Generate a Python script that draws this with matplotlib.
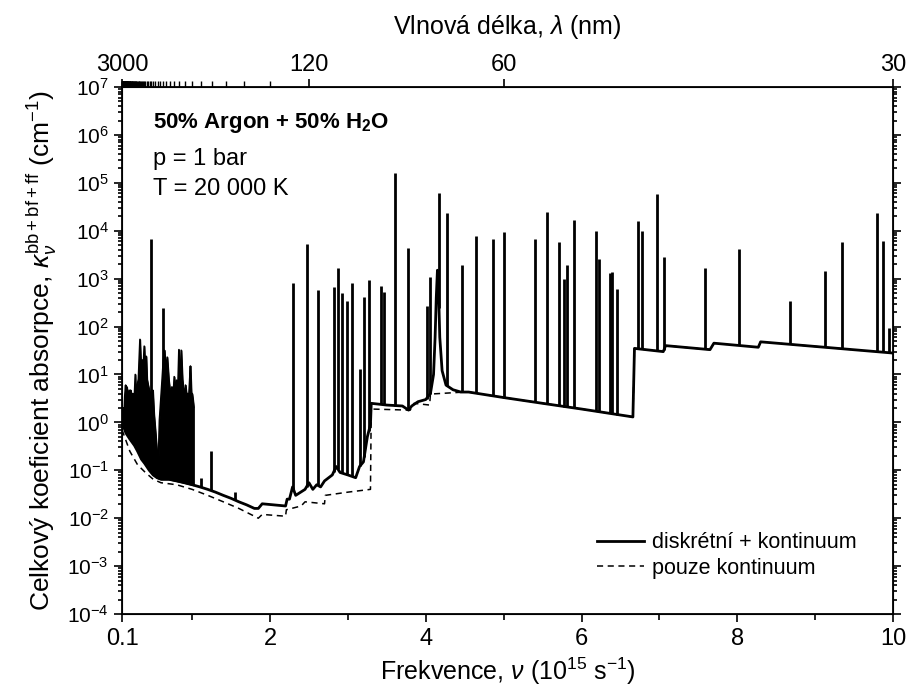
import numpy as np
import matplotlib.pyplot as plt
from matplotlib.ticker import FixedLocator, LogLocator, NullFormatter

plt.rcParams['font.family'] = ['Liberation Sans', 'DejaVu Sans']
plt.rcParams['mathtext.fontset'] = 'custom'
plt.rcParams['mathtext.rm'] = 'Liberation Sans'
plt.rcParams['mathtext.it'] = 'Liberation Sans:italic'
plt.rcParams['mathtext.bf'] = 'Liberation Sans:bold'

# solid curve (discrete + continuum) without the narrow line peaks
cont_nu = [0.10, 0.15, 0.20, 0.26, 0.30, 0.35, 0.39, 0.45, 0.50, 0.55, 0.60, 0.70, 0.80,
           0.90, 1.00, 1.10, 1.20, 1.30, 1.40, 1.50, 1.60, 1.70, 1.80, 1.85, 1.90, 2.20,
           2.22, 2.25, 2.29, 2.33, 2.45, 2.50, 2.55, 2.60, 2.65, 2.70, 2.80, 2.85, 2.90,
           3.00, 3.10, 3.15, 3.20, 3.25, 3.29, 3.30, 3.50, 3.70, 3.78, 3.82, 3.90, 4.00,
           4.06, 4.10, 4.12, 4.135, 4.15, 4.165, 4.18, 4.21, 4.26, 4.35, 4.45, 4.55, 5.00,
           5.50, 6.00, 6.66, 6.68, 7.05, 7.08, 7.65, 7.70, 8.27, 8.30, 10.0]
cont_k = [1.0, 0.6, 0.45, 0.33, 0.25, 0.17, 0.14, 0.10, 0.08, 0.07, 0.065, 0.065, 0.06,
          0.055, 0.05, 0.045, 0.04, 0.035, 0.03, 0.026, 0.022, 0.019, 0.016, 0.016, 0.02,
          0.018, 0.025, 0.025, 0.045, 0.03, 0.04, 0.055, 0.04, 0.05, 0.045, 0.06, 0.08,
          0.12, 0.09, 0.08, 0.07, 0.12, 0.15, 0.5, 0.9, 2.5, 2.3, 2.2, 1.8, 2.2, 2.7, 3.0,
          4.0, 10, 60, 400, 1500, 500, 60, 12, 6, 4.8, 4.3, 4.3, 3.3,
          2.5, 1.9, 1.3, 35, 30, 40, 33, 45, 37, 48, 28]

# dashed curve: continuum only
dash_nu = [0.10, 0.20, 0.30, 0.40, 0.50, 0.60, 0.80, 1.00, 1.20, 1.40, 1.60, 1.80, 1.85,
           1.90, 2.20, 2.21, 2.40, 2.45, 2.70, 2.71, 3.00, 3.29, 3.30, 3.80, 3.85, 4.05,
           4.06, 4.50, 4.55, 5.00, 5.50, 6.00, 6.66, 6.68, 7.05, 7.08, 7.65, 7.70, 8.27,
           8.30, 10.0]
dash_k = [0.7, 0.25, 0.13, 0.09, 0.065, 0.055, 0.05, 0.04, 0.03, 0.022, 0.016, 0.011, 0.010,
          0.012, 0.011, 0.015, 0.018, 0.022, 0.02, 0.03, 0.035, 0.04, 1.9, 1.8, 2.5, 2.3,
          3.9, 4.3, 4.3, 3.3, 2.5, 1.9, 1.3, 35, 30, 40, 33, 45, 37, 48, 28]

# dense group of lines at low frequency: upper envelope
band_nu = [0.100, 0.115, 0.125, 0.135, 0.146, 0.155, 0.162, 0.175, 0.19, 0.20, 0.21, 0.225,
           0.24, 0.255, 0.27, 0.28, 0.295, 0.31, 0.33, 0.345, 0.36, 0.37, 0.385, 0.395, 0.41,
           0.42, 0.43, 0.445, 0.46, 0.48, 0.495, 0.51, 0.53, 0.55, 0.565, 0.58, 0.60, 0.615,
           0.63, 0.645, 0.66, 0.68, 0.70, 0.72, 0.74, 0.755, 0.77, 0.785, 0.80, 0.815, 0.83,
           0.845, 0.86, 0.875, 0.885, 0.90, 0.915, 0.93, 0.94, 0.955, 0.965, 0.978, 0.99,
           1.00, 1.01, 1.02]
band_k = [1.0, 2.0, 1.2, 3.5, 6.0, 2.5, 5.5, 3.0, 4.7, 2.8, 4.7, 3.5,
          4.0, 2.5, 10, 3.0, 6, 8, 54, 12, 20, 12, 39, 15, 24,
          8, 6.5, 5, 4, 3, 4.7, 1.5, 0.6, 0.22, 0.12, 1.1, 3.4, 8,
          20, 32, 12, 23, 7.6, 4, 5.5, 3, 9, 4.5, 7.6, 4, 33,
          6, 32, 8, 5.5, 3.5, 6, 3.5, 4, 3, 6, 15, 4,
          4, 3, 2.1]

# individual lines: frequency and peak value
line_nu = [0.466, 0.62, 1.12, 1.24, 1.55, 2.30, 2.47, 2.61, 2.82, 2.87, 2.93, 2.99, 3.05,
           3.16, 3.21, 3.27, 3.42, 3.47, 3.60, 3.77, 4.01, 4.06, 4.17, 4.27, 4.46, 4.65,
           4.86, 5.00, 5.40, 5.56, 5.71, 5.78, 5.82, 5.90, 6.18, 6.22, 6.37, 6.39, 6.46,
           6.73, 6.78, 6.97, 7.06, 7.58, 8.02, 8.68, 9.13, 9.34, 9.80, 9.87, 9.95]
line_k = [6600, 250, 0.07, 0.25, 0.035, 800, 5300, 570, 660, 1700, 510, 350, 830,
          13, 420, 930, 700, 520, 1.6e5, 4300, 270, 1100, 6e4, 2.4e4, 1900, 7800,
          6800, 9300, 6600, 2.5e4, 5700, 1000, 1900, 1.7e4, 1.0e4, 2600, 1300, 1400, 600,
          1.6e4, 9800, 5.8e4, 2900, 1700, 4200, 350, 1450, 5800, 2.4e4, 6000, 93]

top_lam = [3000, 120, 60, 30]
top_lam_minor = list(range(150, 3000, 30))

fig = plt.figure(figsize=(9.08, 6.95), dpi=100)
ax = fig.add_axes([0.1344, 0.1165, 0.8491, 0.7583])

log_cont = np.log10(cont_k)
ax.plot(dash_nu, dash_k, 'k--', lw=1.1, dashes=(4, 3), label='pouze kontinuum')
ax.plot(cont_nu, cont_k, 'k-', lw=2.0, label='diskrétní + kontinuum')

band_base = 10 ** np.interp(band_nu, cont_nu, log_cont)
ax.fill_between(band_nu, band_base, band_k, color='k', lw=1.0)
ax.plot(band_nu, band_k, 'k-', lw=1.2)

line_base = 10 ** np.interp(line_nu, cont_nu, log_cont)
ax.vlines(line_nu, line_base, line_k, color='k', lw=2.0)

ax.set_yscale('log')
ax.set_xlim(0.1, 10)
ax.set_ylim(1e-4, 1e7)
ax.xaxis.set_major_locator(FixedLocator([0.1, 2, 4, 6, 8, 10]))
ax.xaxis.set_minor_locator(FixedLocator([1, 3, 5, 7, 9]))
ax.set_xticklabels(['0.1', '2', '4', '6', '8', '10'])
ax.yaxis.set_major_locator(LogLocator(base=10, numticks=20))
ax.yaxis.set_minor_locator(LogLocator(base=10, subs=np.arange(2, 10), numticks=20))
ax.yaxis.set_minor_formatter(NullFormatter())
ax.tick_params(axis='both', which='both', direction='out', width=1.2)
ax.tick_params(axis='x', which='major', length=6, labelsize=17, pad=4)
ax.tick_params(axis='x', which='minor', length=4)
ax.tick_params(axis='y', which='major', length=6, labelsize=15, right=True)
ax.tick_params(axis='y', which='minor', length=3, right=True)
for s in ax.spines.values():
    s.set_linewidth(1.3)

ax.set_xlabel(r'Frekvence, $\nu$ (10$^{15}$ s$^{-1}$)', fontsize=18, labelpad=4)
ax.set_ylabel(r'Celkový koeficient absorpce, $\kappa_{\nu}^{\rm bb+bf+ff}$ (cm$^{-1}$)',
              fontsize=19, labelpad=6)

# top axis: wavelength in nm, lambda = 300 / nu
top = ax.twiny()
top.set_xlim(ax.get_xlim())
top.xaxis.set_major_locator(FixedLocator([300.0 / l for l in top_lam]))
top.xaxis.set_minor_locator(FixedLocator([300.0 / l for l in top_lam_minor]))
top.set_xticklabels([str(l) for l in top_lam])
top.tick_params(axis='x', which='major', direction='out', length=6, width=1.2, labelsize=17, pad=2)
top.tick_params(axis='x', which='minor', direction='out', length=4, width=1.0)
top.set_xlabel(r'Vlnová délka, $\lambda$ (nm)', fontsize=18, labelpad=14)

ax.text(0.04, 0.955, r'50% Argon + 50% H$_{\mathbf{2}}$O', transform=ax.transAxes,
        fontsize=16, fontweight='bold', va='top')
ax.text(0.04, 0.884, 'p = 1 bar', transform=ax.transAxes, fontsize=17, va='top')
ax.text(0.04, 0.828, 'T = 20 000 K', transform=ax.transAxes, fontsize=17, va='top')

handles, labels = ax.get_legend_handles_labels()
ax.legend(handles[::-1], labels[::-1], loc='upper left', bbox_to_anchor=(0.616, 0.155),
          frameon=False, fontsize=15.5, handlelength=2.2, handletextpad=0.35,
          borderaxespad=0, borderpad=0, labelspacing=0.2)

fig.savefig('out.png', dpi=100)
